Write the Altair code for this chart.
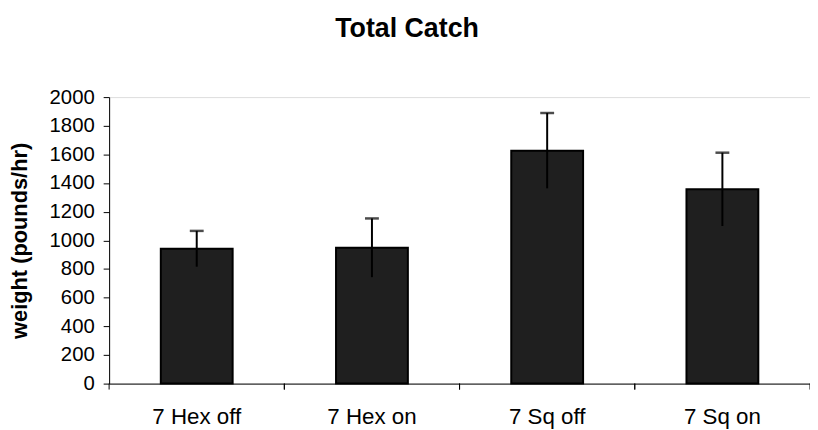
import altair as alt
import pandas as pd

categories = ["7 Hex off", "7 Hex on", "7 Sq off", "7 Sq on"]
means = [941, 948, 1626, 1356]
errors = [125, 205, 263, 256]
y_ticks = list(range(0, 2001, 200))

df = pd.DataFrame({"cat": categories, "mean": means, "err": errors})
df["lo"] = df["mean"] - df["err"]
df["hi"] = df["mean"] + df["err"]

FONT = "Liberation Sans"
YTITLE = "weight (pounds/hr)"

xscale = alt.Scale(domain=categories, paddingInner=0, paddingOuter=0)
yscale = alt.Scale(domain=[0, 2000], nice=False)

x_axis = alt.Axis(title=None, labelAngle=0, ticks=False, grid=False, labelFontSize=22.5,
                  labelPadding=22, labelFont=FONT, labelColor="black", domainColor="black",
                  domainWidth=1)
y_axis = alt.Axis(values=y_ticks, format="d", labelOverlap=False, title=YTITLE, grid=False,
                  tickSize=6, tickColor="black", domainColor="black", labelFont=FONT,
                  labelFontSize=20.5, labelColor="black", labelPadding=9, titleFont=FONT,
                  titleFontSize=22, titleFontWeight="bold", titleColor="black", titlePadding=18)

base = alt.Chart(df)

bars = base.mark_bar(width=alt.RelativeBandSize(band=0.41), fill="#1f1f1f",
                     stroke="black", strokeWidth=2).encode(
    x=alt.X("cat:N", scale=xscale, sort=categories, axis=x_axis),
    y=alt.Y("mean:Q", scale=yscale, axis=y_axis, title=YTITLE),
)

err = base.mark_rule(color="black", strokeWidth=2).encode(
    x=alt.X("cat:N", sort=categories, axis=x_axis),
    y=alt.Y("lo:Q", scale=yscale, axis=y_axis, title=YTITLE),
    y2="hi:Q",
)

caps = base.mark_tick(color="black", size=14, thickness=2.5).encode(
    x=alt.X("cat:N", sort=categories, axis=x_axis),
    y=alt.Y("hi:Q", scale=yscale, axis=y_axis, title=YTITLE),
)

ticks_left = base.mark_rule(color="black", strokeWidth=1).encode(
    x=alt.X("cat:N", sort=categories, bandPosition=0, axis=x_axis),
    y=alt.value(289),
    y2=alt.value(295),
)
ticks_right = base.mark_rule(color="black", strokeWidth=1).encode(
    x=alt.X("cat:N", sort=categories, bandPosition=1, axis=x_axis),
    y=alt.value(289),
    y2=alt.value(295),
)

chart = alt.layer(bars, err, caps, ticks_left, ticks_right).properties(
    width=707,
    height=289,
    padding={"left": 102, "top": 88, "right": 0, "bottom": 54},
    autosize=alt.AutoSizeParams(type="none"),
    title=alt.TitleParams("Total Catch", fontSize=27, font=FONT, fontWeight="bold",
                          color="black", anchor="middle", dx=-53, offset=45),
).configure_view(stroke="transparent", strokeWidth=0, strokeOpacity=0).configure_axis(
    grid=False).configure_axisY(labelOverlap=False).configure(background="white")

chart.save("out.html", embed_options={"renderer": "svg", "actions": False})
